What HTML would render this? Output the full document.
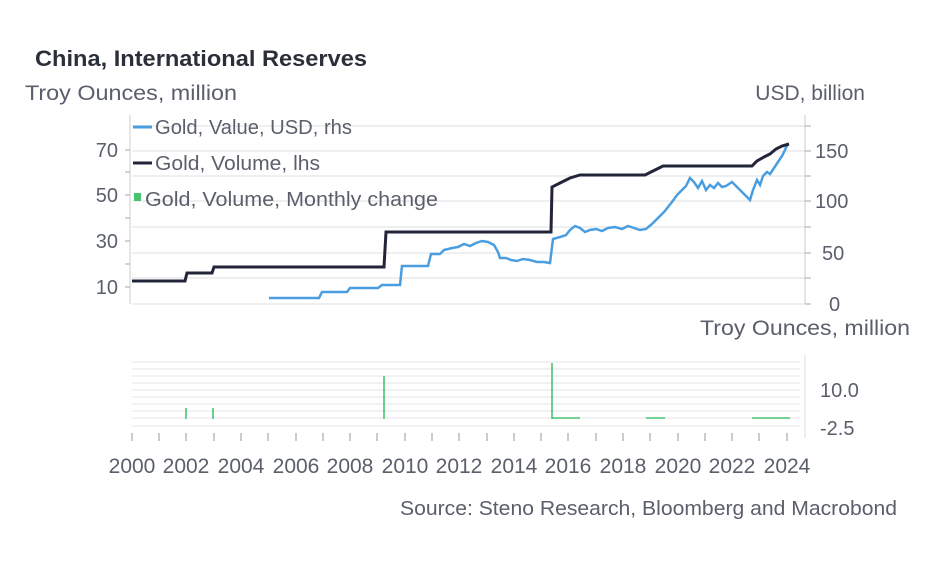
<!DOCTYPE html>
<html><head><style>
body{margin:0;background:#fff;}
text{font-family:"Liberation Sans",sans-serif;fill:#5a5f6b;}
</style></head><body>
<svg width="945" height="556" viewBox="0 0 945 556" xmlns="http://www.w3.org/2000/svg">
<rect width="945" height="556" fill="#fff"/>
<text x="35" y="66" font-size="22" font-weight="bold" style="fill:#2b2f3a" textLength="332" lengthAdjust="spacingAndGlyphs">China, International Reserves</text>
<text x="25" y="100" font-size="21" textLength="212" lengthAdjust="spacingAndGlyphs">Troy Ounces, million</text>
<text x="865" y="100" font-size="21" text-anchor="end">USD, billion</text>
<g stroke="#e4e5e8" stroke-width="1.2">
<line x1="132" x2="805" y1="126" y2="126"/><line x1="132" x2="805" y1="151" y2="151"/>
<line x1="132" x2="805" y1="176" y2="176"/><line x1="132" x2="805" y1="201" y2="201"/>
<line x1="132" x2="805" y1="227" y2="227"/><line x1="132" x2="805" y1="253" y2="253"/>
<line x1="132" x2="805" y1="278" y2="278"/><line x1="132" x2="805" y1="304" y2="304"/>
</g>
<line x1="805" x2="805" y1="115" y2="304" stroke="#ccc"/>
<line x1="130" x2="130" y1="115" y2="304" stroke="#ccc"/>
<g stroke="#aaa"><line x1="805" x2="811" y1="126" y2="126"/><line x1="805" x2="811" y1="151" y2="151"/><line x1="805" x2="811" y1="176" y2="176"/><line x1="805" x2="811" y1="201" y2="201"/><line x1="805" x2="811" y1="227" y2="227"/><line x1="805" x2="811" y1="253" y2="253"/><line x1="805" x2="811" y1="278" y2="278"/><line x1="805" x2="811" y1="304" y2="304"/>
<line x1="125" x2="130" y1="150" y2="150"/><line x1="125" x2="130" y1="172" y2="172"/><line x1="125" x2="130" y1="195" y2="195"/><line x1="125" x2="130" y1="218" y2="218"/><line x1="125" x2="130" y1="241" y2="241"/><line x1="125" x2="130" y1="264" y2="264"/><line x1="125" x2="130" y1="287" y2="287"/></g>
<g font-size="20" text-anchor="end"><text x="118" y="157">70</text><text x="118" y="202">50</text><text x="118" y="248">30</text><text x="118" y="294">10</text></g>
<g font-size="20"><text x="815" y="158">150</text><text x="815" y="208">100</text><text x="822" y="260">50</text><text x="829" y="311">0</text></g>
<polyline fill="none" stroke="#4a9ee0" stroke-width="2.5" points="269,298 319,298 322,292 347,292 350,288 378,288 382,285 400,285 402,266 428,266 431,254 440,254 444,250 452,248 458,247 464,244 470,246 476,243 482,241 488,242 494,245 498,252 500,258 506,258 511,260 517,261 523,259 530,260 537,262 544,262 550,263 553,239 560,237 566,235 570,230 575,226 580,228 585,232 590,230 596,229 602,231 608,228 615,227 622,229 628,226 634,228 640,230 646,229 652,224 658,218 664,212 668,207 672,202 677,195 682,190 686,186 690,178 694,182 698,188 702,181 706,190 710,185 714,188 718,183 722,187 726,186 732,182 736,186 740,190 746,196 750,200 753,190 757,180 760,185 763,176 767,172 770,174 774,168 778,162 782,156 785,150 788,143"/>
<polyline fill="none" stroke="#22253a" stroke-width="3" points="132,281 185,281 187,273 212,273 214,267 384,267 386,232 551,232 552,187 560,183 570,178 580,175 645,175 655,170 663,166 752,166 757,161 764,157 770,154 776,149 782,146 789,144"/>
<line x1="133" x2="152" y1="127" y2="127" stroke="#4a9ee0" stroke-width="3"/>
<text x="155" y="134" font-size="20" textLength="197" lengthAdjust="spacingAndGlyphs">Gold, Value, USD, rhs</text>
<line x1="133" x2="152" y1="163" y2="163" stroke="#22253a" stroke-width="3"/>
<text x="155" y="170" font-size="20" textLength="165" lengthAdjust="spacingAndGlyphs">Gold, Volume, lhs</text>
<rect x="134" y="193" width="7" height="8" fill="#46c46e"/>
<text x="145" y="206" font-size="20" textLength="293" lengthAdjust="spacingAndGlyphs">Gold, Volume, Monthly change</text>
<text x="910" y="335" font-size="21" text-anchor="end" textLength="210" lengthAdjust="spacingAndGlyphs">Troy Ounces, million</text>
<g stroke="#e4e5e8" stroke-width="1">
<line x1="132" x2="800" y1="362" y2="362"/><line x1="132" x2="800" y1="369" y2="369"/><line x1="132" x2="800" y1="376" y2="376"/><line x1="132" x2="800" y1="383" y2="383"/><line x1="132" x2="800" y1="390" y2="390"/><line x1="132" x2="800" y1="397" y2="397"/><line x1="132" x2="800" y1="404" y2="404"/><line x1="132" x2="800" y1="411" y2="411"/><line x1="132" x2="800" y1="418" y2="418"/><line x1="132" x2="800" y1="426" y2="426"/></g>
<line x1="805" x2="805" y1="355" y2="438" stroke="#ddd"/>
<text x="820" y="397" font-size="20">10.0</text>
<text x="820" y="435" font-size="20">-2.5</text>
<g stroke="#46c46e" stroke-width="1.6">
<line x1="186" x2="186" y1="408" y2="419"/><line x1="213" x2="213" y1="408" y2="419"/>
<line x1="384" x2="384" y1="376" y2="419"/><line x1="552" x2="552" y1="363" y2="419"/>
<line x1="552" x2="580" y1="418" y2="418"/><line x1="646" x2="665" y1="418" y2="418"/><line x1="752" x2="790" y1="418" y2="418"/></g>
<g stroke="#999"><line x1="132" x2="132" y1="433" y2="441"/><line x1="159" x2="159" y1="433" y2="441"/><line x1="186" x2="186" y1="433" y2="441"/><line x1="214" x2="214" y1="433" y2="441"/><line x1="241" x2="241" y1="433" y2="441"/><line x1="268" x2="268" y1="433" y2="441"/><line x1="296" x2="296" y1="433" y2="441"/><line x1="323" x2="323" y1="433" y2="441"/><line x1="350" x2="350" y1="433" y2="441"/><line x1="377" x2="377" y1="433" y2="441"/><line x1="405" x2="405" y1="433" y2="441"/><line x1="432" x2="432" y1="433" y2="441"/><line x1="459" x2="459" y1="433" y2="441"/><line x1="487" x2="487" y1="433" y2="441"/><line x1="514" x2="514" y1="433" y2="441"/><line x1="541" x2="541" y1="433" y2="441"/><line x1="568" x2="568" y1="433" y2="441"/><line x1="596" x2="596" y1="433" y2="441"/><line x1="623" x2="623" y1="433" y2="441"/><line x1="650" x2="650" y1="433" y2="441"/><line x1="678" x2="678" y1="433" y2="441"/><line x1="705" x2="705" y1="433" y2="441"/><line x1="732" x2="732" y1="433" y2="441"/><line x1="759" x2="759" y1="433" y2="441"/><line x1="787" x2="787" y1="433" y2="441"/></g>
<g font-size="21" text-anchor="middle"><text x="132" y="473">2000</text><text x="186" y="473">2002</text><text x="241" y="473">2004</text><text x="296" y="473">2006</text><text x="350" y="473">2008</text><text x="405" y="473">2010</text><text x="459" y="473">2012</text><text x="514" y="473">2014</text><text x="568" y="473">2016</text><text x="623" y="473">2018</text><text x="678" y="473">2020</text><text x="732" y="473">2022</text><text x="787" y="473">2024</text></g>
<text x="897" y="515" font-size="20" text-anchor="end" textLength="497" lengthAdjust="spacingAndGlyphs">Source: Steno Research, Bloomberg and Macrobond</text>
</svg>
</body></html>
